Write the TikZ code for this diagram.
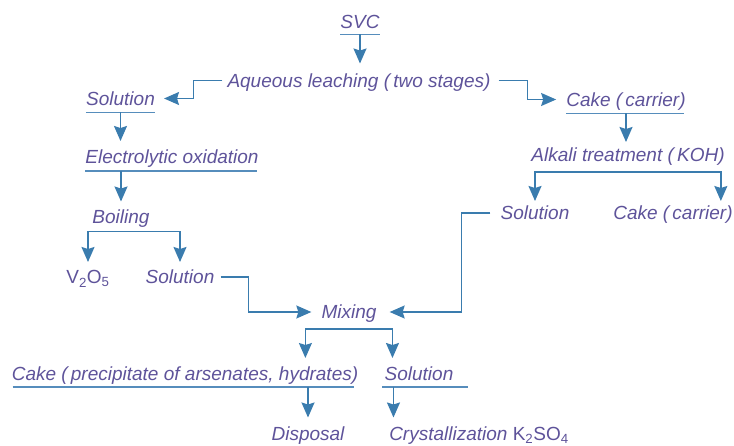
\documentclass[tikz,border=0pt]{standalone}
\usepackage{fontspec}
\setmainfont{Liberation Sans}
\usetikzlibrary{arrows.meta,calc}
\definecolor{txtc}{RGB}{94,83,154}
\definecolor{linec}{RGB}{58,124,174}
\definecolor{ulc}{RGB}{86,141,188}
\begin{document}
\begin{tikzpicture}[x=1pt,y=1pt,
 lbl/.style={inner sep=0pt, text height=13.6pt, text depth=0pt, text=txtc, font=\fontsize{19}{22}\selectfont\itshape},
 conn/.style={draw=linec, line width=1.4pt},
 arr/.style={conn, -{Stealth[length=15pt,width=13pt,inset=2pt]}},
 uline/.style={draw=ulc, line width=1.4pt}]
\useasboundingbox (0,-446) rectangle (734,0);
% nodes
\node[lbl] (svc) at (360,-21.5) {SVC};
\node[lbl] (aq) at (359,-80.5) {Aqueous leaching (\,two stages)};
\node[lbl] (sol1) at (120.5,-98.5) {Solution};
\node[lbl] (eo) at (172,-157) {Electrolytic oxidation};
\node[lbl] (boil) at (121,-216.5) {Boiling};
\node[lbl] (v2o5) at (88,-277) {\upshape V\textsubscript{2}O\textsubscript{5}};
\node[lbl] (sol2) at (180,-277) {Solution};
\node[lbl] (cake1) at (626,-99.5) {Cake (\,carrier)};
\node[lbl] (alk) at (628,-155) {Alkali treatment (\,KOH)};
\node[lbl] (sol4) at (535,-213) {Solution};
\node[lbl] (cake2) at (673,-213) {Cake (\,carrier)};
\node[lbl] (mix) at (349,-312) {Mixing};
\node[lbl] (cakep) at (185,-374) {Cake (\,precipitate of arsenates, hydrates)};
\node[lbl] (sol3) at (419,-374) {Solution};
\node[lbl] (disp) at (308,-433.5) {Disposal};
\node[lbl] (cryst) at (479,-433.5) {Crystallization {\upshape K\textsubscript{2}SO\textsubscript{4}}};
% underlines
\draw[uline] ($(svc.south west)+(0,-6)$) -- ($(svc.south east)+(0,-6)$);
\draw[uline] ($(sol1.south west)+(0,-7)$) -- ($(sol1.south east)+(0,-7)$);
\draw[uline] ($(eo.south west)+(0,-7)$) -- ($(eo.south east)+(-2,-7)$);
\draw[uline] ($(cake1.south west)+(0,-7)$) -- ($(cake1.south east)+(-2,-7)$);
\draw[uline] ($(cakep.south west)+(1,-6)$) -- ($(cakep.south east)+(-4,-6)$);
\draw[uline] ($(sol3.south west)+(-2,-6)$) -- ($(sol3.south east)+(14,-6)$);
% connectors
\draw[arr] ($(svc.south)+(0,-6)$) -- ($(svc.south |- aq.north)+(0,10)$);
\draw[arr] ($(aq.west)+(-5,0)$) -- ++(-29,0) |- ($(sol1.east)+(9,0)$);
\draw[arr] ($(aq.east)+(8,0)$) -- ++(29,0) |- ($(cake1.west)+(-10,0)$);
\draw[arr] ($(sol1.south)+(0,-7)$) -- ($(sol1.south |- eo.north)+(0,9)$);
\draw[arr] ($(eo.south -| boil.north)+(0,-7)$) -- ($(boil.north)+(0,8)$);
\draw[arr] ($(boil.south)+(0,-8)$) -| ($(v2o5.north)+(0,8)$);
\draw[arr] ($(boil.south)+(0,-8)$) -| ($(sol2.north)+(0,8)$);
\draw[arr] ($(sol2.east)+(6,0)$) -- ++(28,0) |- ($(mix.west)+(-10,0)$);
\draw[arr] ($(cake1.south)+(0,-7)$) -- ($(cake1.south |- alk.north)+(0,6)$);
\draw[arr] ($(alk.south)+(0,-10)$) -| ($(sol4.north)+(0,5)$);
\draw[arr] ($(alk.south)+(0,-10)$) -| ($(cake2.north east)+(-12,5)$);
\draw[arr] ($(sol4.west)+(-10,0)$) -- ++(-29,0) |- ($(mix.east)+(13,0)$);
\draw[arr] ($(mix.south)+(0,-10)$) -| ($(cakep.north east)+(-53,9)$);
\draw[arr] ($(mix.south)+(0,-10)$) -| ($(sol3.north west)+(8,9)$);
\draw[arr] ($(cakep.south -| disp.north)+(0,-6)$) -- ($(disp.north)+(0,9)$);
\coordinate (c3) at ($(sol3.south west)+(9,-6)$);
\draw[arr] (c3) -- ($(c3 |- cryst.north)+(0,9)$);
\end{tikzpicture}
\end{document}
